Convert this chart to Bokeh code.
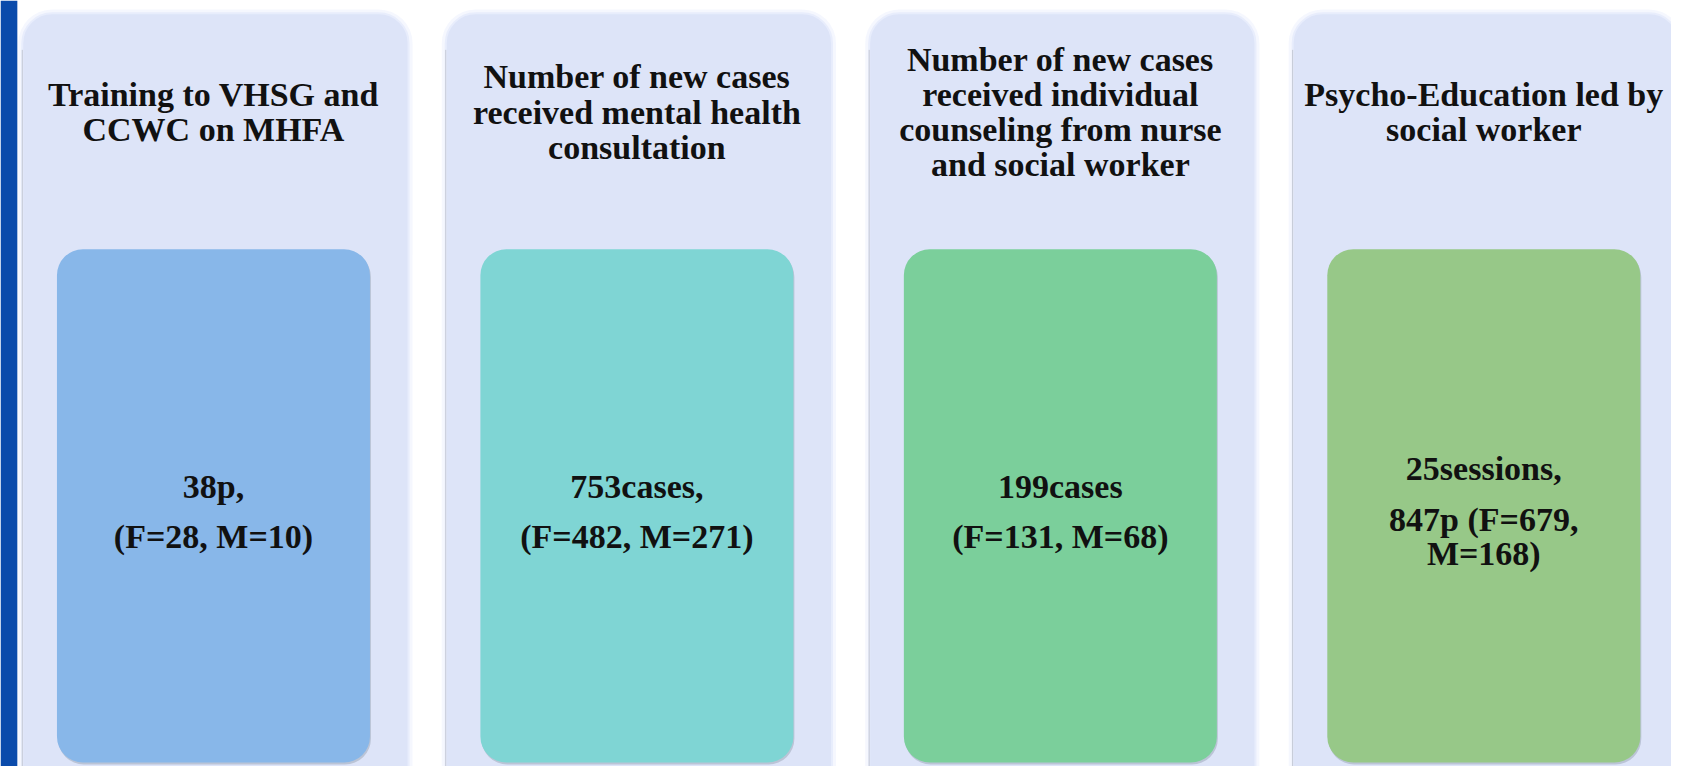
from bokeh.plotting import figure
from bokeh.models import ColumnDataSource, Range1d
from bokeh.core.properties import value
from bokeh.embed import file_html
from bokeh.resources import INLINE

# ---------------- data ----------------
titles = [
    ["Training to VHSG and", "CCWC on MHFA"],
    ["Number of new cases", "received mental health", "consultation"],
    ["Number of new cases", "received individual", "counseling from nurse", "and social worker"],
    ["Psycho-Education led by", "social worker"],
]
totals = [38, 753, 199, 847]
female = [28, 482, 131, 679]
male = [10, 271, 68, 168]
units = ["p", "cases", "cases", "p"]
sessions = [None, None, None, 25]
box_colors = ["#88b7e9", "#7fd5d4", "#7bcf9b", "#97c888"]

# value paragraphs built from the numbers
value_paras = [
    [[f"{totals[0]}{units[0]},"], [f"(F={female[0]}, M={male[0]})"]],
    [[f"{totals[1]}{units[1]},"], [f"(F={female[1]}, M={male[1]})"]],
    [[f"{totals[2]}{units[2]}"], [f"(F={female[2]}, M={male[2]})"]],
    [[f"{sessions[3]}sessions,"], [f"{totals[3]}{units[3]} (F={female[3]},", f"M={male[3]})"]],
]

# ---------------- layout (pixels of the reference image) ----------------
W, H = 1687, 782
PITCH = 427.5
PANEL_X0 = 22
PANEL_W = 390
INNER_X0 = 57
INNER_W = 316
INNER_TOP, INNER_BOT = 252, 772
PANEL_TOP = 13
TITLE_SHIFT = -11
VALUE_SHIFT = -8

p = figure(width=1671, height=766, output_backend="svg", toolbar_location=None,
           x_range=Range1d(0, W), y_range=Range1d(776, 0),
           min_border=0, outline_line_color=None, background_fill_color="white",
           border_fill_color="white")
p.axis.visible = False
p.grid.visible = False

# blue strip on the left
p.quad(left=[0], right=[17], top=[0], bottom=[H], fill_color="#0a4bab", line_color=None)

n = len(titles)
idx = list(range(n))
pl = [PANEL_X0 + i * PITCH for i in idx]
pr = [x + PANEL_W for x in pl]
il = [INNER_X0 + i * PITCH for i in idx]
ir = [x + INNER_W for x in il]
cx = [(a + b) / 2 for a, b in zip(il, ir)]

# outer soft glow + panels
p.quad(left=[x - 4 for x in pl], right=[x + 4 for x in pr], top=[PANEL_TOP - 4] * n, bottom=[H + 40] * n,
       fill_color="#eef2fd", fill_alpha=0.6, line_color=None, border_radius=34)
p.quad(left=pl, right=pr, top=[PANEL_TOP] * n, bottom=[H + 30] * n,
       fill_color="#dde4f8", line_color="#e8edfc", line_width=2, border_radius=30)
# left thin grey line on the panels
p.segment(x0=pl, x1=pl, y0=[50] * n, y1=[H] * n, line_color="#c4c8d4", line_width=1)

# inner boxes: shadow, body
src = ColumnDataSource(dict(left=il, right=ir, top=[INNER_TOP] * n, bottom=[INNER_BOT] * n,
                            color=box_colors))
p.quad(left=[x + 1 for x in il], right=[x + 1 for x in ir], top=[INNER_TOP + 2] * n,
       bottom=[INNER_BOT + 2] * n, fill_color="#7a8a99", fill_alpha=0.35, line_color=None,
       border_radius=26)
p.quad(left="left", right="right", top="top", bottom="bottom", fill_color="color",
       line_color=None, border_radius=26, source=src)

FONT = value("Liberation Serif")

# titles
tx, ty, tt = [], [], []
LINE = 35.7
for i, lines in enumerate(titles):
    k = len(lines)
    for j, s in enumerate(lines):
        tx.append(cx[i])
        ty.append(124 + TITLE_SHIFT + (j - (k - 1) / 2) * LINE)
        tt.append(s)
p.text(x=tx, y=ty, text=tt, text_font=FONT, text_font_style="bold", text_font_size="34px",
       text_color="#111111", text_align="center", text_baseline="alphabetic")

# values
vx, vy, vt = [], [], []
PARA_GAP, VLINE = 51, 35
for i, paras in enumerate(value_paras):
    ys = []
    y = 0
    for pi, para in enumerate(paras):
        if pi > 0:
            y += PARA_GAP
        for li, s in enumerate(para):
            if li > 0:
                y += VLINE
            ys.append((s, y))
    off = 525.5 + VALUE_SHIFT - (ys[0][1] + ys[-1][1]) / 2
    for s, yy in ys:
        vx.append(cx[i])
        vy.append(yy + off)
        vt.append(s)
p.text(x=vx, y=vy, text=vt, text_font=FONT, text_font_style="bold", text_font_size="34px",
       text_color="#111111", text_align="center", text_baseline="alphabetic")

open("out.html", "w").write(file_html(p, INLINE))
